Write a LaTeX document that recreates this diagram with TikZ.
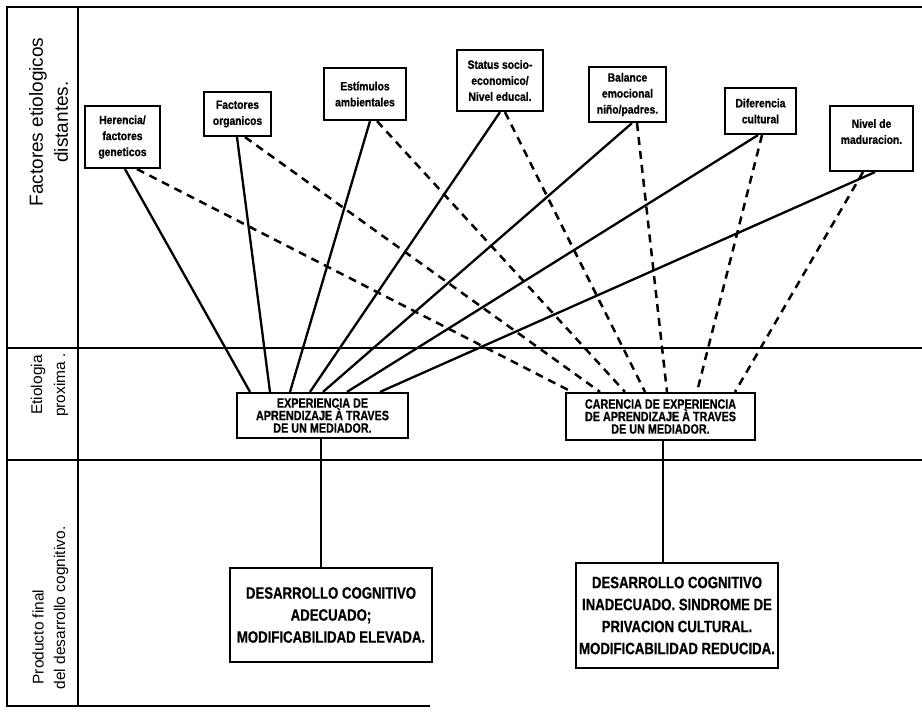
\documentclass[tikz,border=0pt]{standalone}
\usepackage{fontspec}
\setmainfont{Liberation Sans}
\newfontfamily\condA[FakeStretch=0.86,FakeBold=0.8]{Liberation Sans Bold}
\newfontfamily\condB[FakeStretch=0.8,FakeBold=0.8]{Liberation Sans Bold}
\newfontfamily\condC[FakeStretch=0.8,FakeBold=0.6]{Liberation Sans Bold}
\begin{document}
\begin{tikzpicture}[x=1pt,y=-1pt,
  topbox/.style={draw, line width=2.2pt, align=center, inner sep=0pt,
    font=\condA\fontsize{12}{16}\selectfont},
  midbox/.style={draw, line width=2.2pt, align=center, inner sep=0pt,
    font=\condB\fontsize{13.5}{12.5}\selectfont},
  lowbox/.style={draw, line width=2.2pt, align=center, inner sep=0pt,
    font=\condC\fontsize{16.5}{22}\selectfont},
  sidelabel/.style={rotate=90, inner sep=0pt},
  solidlink/.style={line width=2.3pt},
  dashlink/.style={line width=2.5pt, dash pattern=on 8pt off 6pt},
  frame/.style={line width=1.8pt},
  divider/.style={line width=2.8pt}]
\useasboundingbox (0,0) rectangle (922,713);
% frame
\draw[frame] (922,7) -- (7,7) -- (7,706) -- (430,706);
\draw[frame] (78,7) -- (78,706);
\draw[divider] (7,348) -- (922,348);
\draw[divider] (7,460) -- (922,460);
% side labels
\node[sidelabel, font=\fontsize{19}{19}\selectfont] (l1a) at (38,122) {Factores etiologicos};
\node[sidelabel, font=\fontsize{19}{19}\selectfont] (l1b) at (61,122) {distantes.};
\node[sidelabel, font=\fontsize{15.5}{15.5}\selectfont] (l2a) at (38,385) {Etiologia};
\node[sidelabel, font=\fontsize{15.5}{15.5}\selectfont] (l2b) at (61,385) {proxima .};
\node[sidelabel, font=\fontsize{15.5}{15.5}\selectfont] (l3a) at (38,637) {Producto final};
\node[sidelabel, font=\fontsize{15.5}{15.5}\selectfont] (l3b) at (61,608) {del desarrollo cognitivo.};
% top boxes
\node[topbox, minimum width=75pt, minimum height=62pt] (h) at (122.5,137) {Herencia/\\factores\\geneticos};
\node[topbox, minimum width=67pt, minimum height=44pt] (fo) at (237.5,114) {Factores\\organicos};
\node[topbox, minimum width=82pt, minimum height=52pt] (es) at (365,94) {Estímulos\\ambientales};
\node[topbox, minimum width=86pt, minimum height=61pt] (st) at (500,80.5) {Status socio-\\economico/\\Nivel educal.};
\node[topbox, minimum width=77pt, minimum height=55pt] (ba) at (627.5,94.5) {Balance\\emocional\\niño/padres.};
\node[topbox, minimum width=71pt, minimum height=46pt] (di) at (760.5,111) {Diferencia\\cultural};
\node[topbox, minimum width=83pt, minimum height=65pt, text depth=14pt] (ni) at (871.5,138.5) {Nivel de\\maduracion.};
% middle boxes
\node[midbox, minimum width=171pt, minimum height=45pt] (m1) at (322.5,415.5) {EXPERIENCIA DE\\APRENDIZAJE À TRAVES\\DE UN MEDIADOR.};
\node[midbox, minimum width=189pt, minimum height=47pt] (m2) at (660.5,416.5) {CARENCIA DE EXPERIENCIA\\DE APRENDIZAJE À TRAVES\\DE UN MEDIADOR.};
% bottom boxes
\node[lowbox, minimum width=202pt, minimum height=94pt] (b1) at (331,615) {DESARROLLO COGNITIVO\\ADECUADO;\\MODIFICABILIDAD ELEVADA.};
\node[lowbox, minimum width=202pt, minimum height=105pt] (b2) at (677,615.5) {DESARROLLO COGNITIVO\\INADECUADO. SINDROME DE\\PRIVACION CULTURAL.\\MODIFICABILIDAD REDUCIDA.};
% solid links to m1
\draw[solidlink] ([xshift=2.5pt]h.south) -- ([xshift=-72.5pt]m1.north);
\draw[solidlink] ([xshift=-0.5pt]fo.south) -- ([xshift=-52.5pt]m1.north);
\draw[solidlink] ([xshift=5pt]es.south) -- ([xshift=-32.5pt]m1.north);
\draw[solidlink] (st.south) -- ([xshift=-12.5pt]m1.north);
\draw[solidlink] ([xshift=4.5pt]ba.south) -- ([xshift=0.5pt]m1.north);
\draw[solidlink] ([xshift=-2.5pt]di.south) -- ([xshift=24.5pt]m1.north);
\draw[solidlink] ([xshift=3.5pt]ni.south) -- ([xshift=57.5pt]m1.north);
% dashed links to m2
\draw[dashlink] ([xshift=14.5pt]h.south) -- ([xshift=-88.5pt]m2.north);
\draw[dashlink] ([xshift=7.5pt]fo.south) -- ([xshift=-60.5pt]m2.north);
\draw[dashlink] ([xshift=12pt]es.south) -- ([xshift=-35.5pt]m2.north);
\draw[dashlink] ([xshift=5pt]st.south) -- ([xshift=-15.5pt]m2.north);
\draw[dashlink] ([xshift=9.5pt]ba.south) -- ([xshift=6.5pt]m2.north);
\draw[dashlink] ([xshift=1.5pt]di.south) -- ([xshift=36.5pt]m2.north);
\draw[dashlink] ([xshift=-8.5pt]ni.south) -- ([xshift=74.5pt]m2.north);
% vertical links
\draw[solidlink] ([xshift=-1.5pt]m1.south) -- ([xshift=-1.5pt]m1.south |- b1.north);
\draw[solidlink] ([xshift=2.5pt]m2.south) -- ([xshift=2.5pt]m2.south |- b2.north);
\end{tikzpicture}
\end{document}
